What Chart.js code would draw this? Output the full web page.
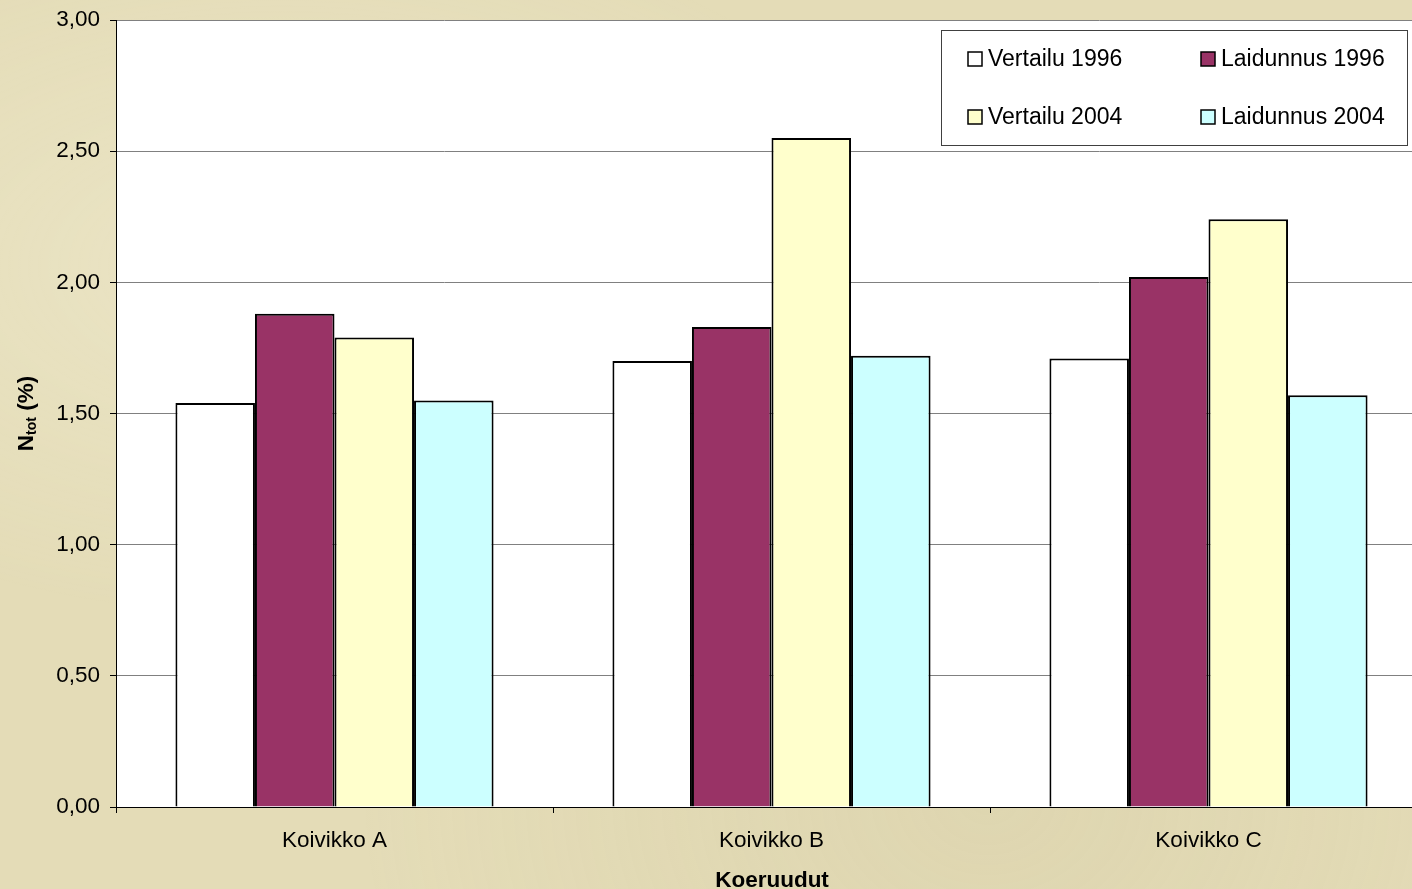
<!DOCTYPE html>
<html>
<head>
<meta charset="utf-8">
<script src="https://cdn.jsdelivr.net/npm/chart.js@4"></script>
<style>
  html, body { margin: 0; padding: 0; overflow: hidden; }
  body {
    width: 1412px; height: 889px;
    background-color: #e4dcb7;
    background-image:
      radial-gradient(ellipse at 20% 30%, rgba(255,255,240,0.25), rgba(255,255,240,0) 40%),
      radial-gradient(ellipse at 70% 90%, rgba(200,190,150,0.2), rgba(200,190,150,0) 45%);
  }
  #wrap { position: absolute; left: 0; top: 0; width: 1430px; height: 889px; }
</style>
</head>
<body>
<div id="wrap"><canvas id="grafico" width="1427" height="889"></canvas></div>
<script>
// Datos
const kategoriat = ['Koivikko A', 'Koivikko B', 'Koivikko C'];
const vertailu1996 = [1.54, 1.70, 1.71];
const laidunnus1996 = [1.88, 1.83, 2.02];
const vertailu2004 = [1.79, 2.55, 2.24];
const laidunnus2004 = [1.55, 1.72, 1.57];
const sarjat = ['Vertailu 1996', 'Laidunnus 1996', 'Vertailu 2004', 'Laidunnus 2004'];
const varit = ['#ffffff', '#993366', '#ffffcc', '#ccffff'];
const yTicks = [0, 0.5, 1, 1.5, 2, 2.5, 3];

const fontti = '"Liberation Sans", Arial, sans-serif';

// Selite, akselien otsikot
const omaPiirto = {
    id: 'omaPiirto',
    afterDraw(chart) {
        const ctx = chart.ctx;
        ctx.save();

        // selitelaatikko
        const bx = 941.5, by = 30.5, bw = 466, bh = 115;
        ctx.fillStyle = '#ffffff';
        ctx.fillRect(bx, by, bw, bh);
        ctx.strokeStyle = '#404040';
        ctx.lineWidth = 1;
        ctx.strokeRect(bx, by, bw, bh);

        ctx.font = '23px ' + fontti;
        ctx.textBaseline = 'middle';
        ctx.textAlign = 'left';
        chart.data.datasets.forEach((ds, i) => {
            const col = i % 2, row = Math.floor(i / 2);
            const x = col === 0 ? 968 : 1201;
            const y = row === 0 ? 59 : 117;
            ctx.fillStyle = ds.backgroundColor;
            ctx.fillRect(x, y - 7, 14, 14);
            ctx.strokeStyle = '#000000';
            ctx.lineWidth = 1.5;
            ctx.strokeRect(x, y - 7, 14, 14);
            ctx.fillStyle = '#000000';
            ctx.fillText(ds.label, x + 20, y + 1);
        });

        // y-akselin otsikko N_tot (%)
        ctx.translate(33, 413.5);
        ctx.rotate(-Math.PI / 2);
        ctx.textBaseline = 'alphabetic';
        const iso = 'bold 22.5px ' + fontti;
        const pieni = 'bold 14px ' + fontti;
        ctx.font = iso;
        const wN = ctx.measureText('N').width;
        const wLoppu = ctx.measureText(' (%)').width;
        ctx.font = pieni;
        const wTot = ctx.measureText('tot').width;
        let x0 = -(wN + wTot + wLoppu) / 2;
        ctx.fillStyle = '#000000';
        ctx.font = iso;
        ctx.fillText('N', x0, 0);
        ctx.font = pieni;
        ctx.fillText('tot', x0 + wN, 3);
        ctx.font = iso;
        ctx.fillText(' (%)', x0 + wN + wTot, 0);
        ctx.restore();

        // x-akselin otsikko
        ctx.save();
        ctx.font = 'bold 22.5px ' + fontti;
        ctx.fillStyle = '#000000';
        ctx.textAlign = 'center';
        ctx.textBaseline = 'alphabetic';
        ctx.fillText('Koeruudut', 772, 887);
        ctx.restore();
    }
};

// valkoinen piirtoalue
const tausta = {
    id: 'tausta',
    beforeDraw(chart) {
        const a = chart.chartArea;
        const ctx = chart.ctx;
        ctx.save();
        ctx.fillStyle = '#ffffff';
        ctx.fillRect(a.left, a.top, a.right - a.left, a.bottom - a.top);
        ctx.restore();
    }
};

const aineistot = [vertailu1996, laidunnus1996, vertailu2004, laidunnus2004].map((arvot, i) => ({
    label: sarjat[i],
    data: arvot,
    backgroundColor: varit[i],
    borderColor: '#000000',
    borderWidth: 2,
    borderSkipped: 'bottom',
    categoryPercentage: 0.728,
    barPercentage: 1.0
}));

new Chart(document.getElementById('grafico').getContext('2d'), {
    type: 'bar',
    data: { labels: kategoriat, datasets: aineistot },
    options: {
        responsive: false,
        animation: false,
        layout: { padding: { top: 20, right: 0, left: 0, bottom: 0 } },
        plugins: {
            legend: { display: false },
            tooltip: { enabled: false }
        },
        scales: {
            x: {
                afterFit(scale) { scale.height = 82; },
                grid: {
                    offset: true,
                    drawOnChartArea: false,
                    drawTicks: true,
                    tickLength: 6,
                    color: '#000000'
                },
                border: { color: '#000000', width: 1 },
                ticks: {
                    color: '#000000',
                    padding: 14,
                    font: { family: fontti, size: 22.5 }
                }
            },
            y: {
                min: 0,
                max: 3,
                afterFit(scale) {
                    scale.width = 116;
                    scale.paddingTop = 0;
                    scale.paddingBottom = 0;
                },
                afterBuildTicks(scale) { scale.ticks = yTicks.map(v => ({ value: v })); },
                grid: {
                    color: '#808080',
                    lineWidth: 1,
                    tickLength: 6,
                    tickColor: '#000000'
                },
                border: { color: '#000000', width: 1 },
                ticks: {
                    color: '#000000',
                    padding: 10,
                    font: { family: fontti, size: 22.5 },
                    callback: v => v.toFixed(2).replace('.', ',')
                }
            }
        }
    },
    plugins: [tausta, omaPiirto]
});
</script>
</body>
</html>
